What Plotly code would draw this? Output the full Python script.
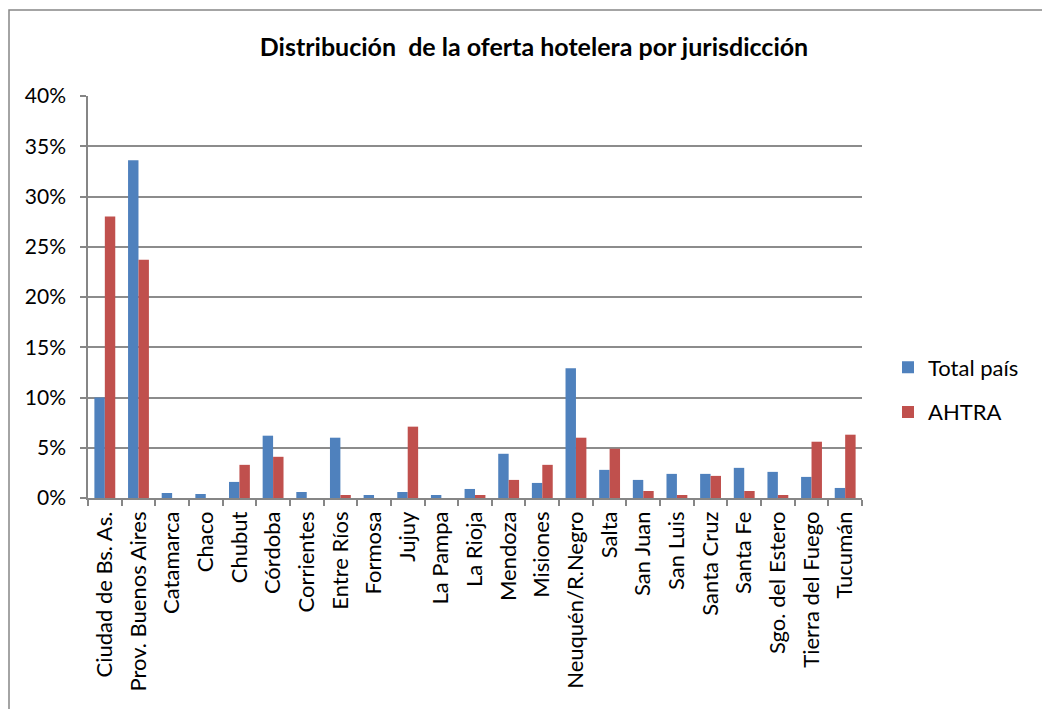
import plotly.graph_objects as go

categories = ["Ciudad de Bs. As.", "Prov. Buenos Aires", "Catamarca", "Chaco", "Chubut",
              "Córdoba", "Corrientes", "Entre Ríos", "Formosa", "Jujuy", "La Pampa",
              "La Rioja", "Mendoza", "Misiones", "Neuquén/R.Negro", "Salta", "San Juan",
              "San Luis", "Santa Cruz", "Santa Fe", "Sgo. del Estero", "Tierra del Fuego",
              "Tucumán"]
total_pais = [0.100, 0.336, 0.005, 0.004, 0.016, 0.062, 0.006, 0.060, 0.003, 0.006, 0.003,
              0.009, 0.044, 0.015, 0.129, 0.028, 0.018, 0.024, 0.024, 0.030, 0.026, 0.021,
              0.010]
ahtra = [0.280, 0.237, 0, 0, 0.033, 0.041, 0, 0.003, 0, 0.071, 0,
         0.003, 0.018, 0.033, 0.060, 0.049, 0.007, 0.003, 0.022, 0.007, 0.003, 0.056,
         0.063]
y_ticks = [0, 0.05, 0.10, 0.15, 0.20, 0.25, 0.30, 0.35, 0.40]

font_family = "Lato, Roboto, Arial, sans-serif"

W, H = 1042, 701
L, T, PW, PH = 80, 88, 774, 402

fig = go.Figure()
fig.add_trace(go.Bar(name="Total país", x=categories, y=total_pais, legendgroup="a",
                     marker=dict(color="#4F81BD", line=dict(width=0))))
fig.add_trace(go.Bar(name="AHTRA", x=categories, y=ahtra, legendgroup="b",
                     marker=dict(color="#C0504D", line=dict(width=0))))

fig.update_layout(
    width=W, height=H,
    paper_bgcolor="white", plot_bgcolor="white",
    barmode="group", bargap=0.38, bargroupgap=0,
    margin=dict(l=L, r=W - L - PW, t=T, b=H - T - PH, pad=0),
    font=dict(family=font_family, size=20, color="black"),
    title=dict(text="<b>Distribución  de la oferta hotelera por jurisdicción</b>",
               x=526 / W, xanchor="center", y=1 - 39 / H, yanchor="middle",
               font=dict(size=25, family=font_family)),
    legend=dict(x=1 + 26 / PW, y=1 - (390 - 96) / PH, xanchor="left", yanchor="middle",
                font=dict(size=22), itemsizing="constant", tracegroupgap=13,
                traceorder="grouped", itemwidth=30),
    showlegend=True,
)
fig.update_xaxes(
    type="category", tickangle=-90, showline=True, linecolor="#868686", linewidth=1.5,
    ticks="outside", tickson="boundaries", ticklen=6, tickcolor="#868686", tickwidth=1.5,
    tickfont=dict(size=22), showgrid=False, ticklabelstandoff=3,
)
fig.update_yaxes(
    range=[0, 0.40], tickvals=y_ticks, tickformat=".0%", showline=True,
    linecolor="#868686", linewidth=1.5, ticks="outside", ticklen=6, tickcolor="#868686",
    tickwidth=1.5, gridcolor="#8c8c8c", gridwidth=1.5, zeroline=False,
    tickfont=dict(size=21), ticklabelstandoff=10,
)
fig.add_shape(type="rect", xref="paper", yref="paper",
              x0=(-L + 1) / PW, x1=1 + 300 / PW, y0=-400 / PH, y1=1 + (T - 2) / PH,
              line=dict(color="#868686", width=1.5), fillcolor="rgba(0,0,0,0)")
fig.write_html("out.html")
